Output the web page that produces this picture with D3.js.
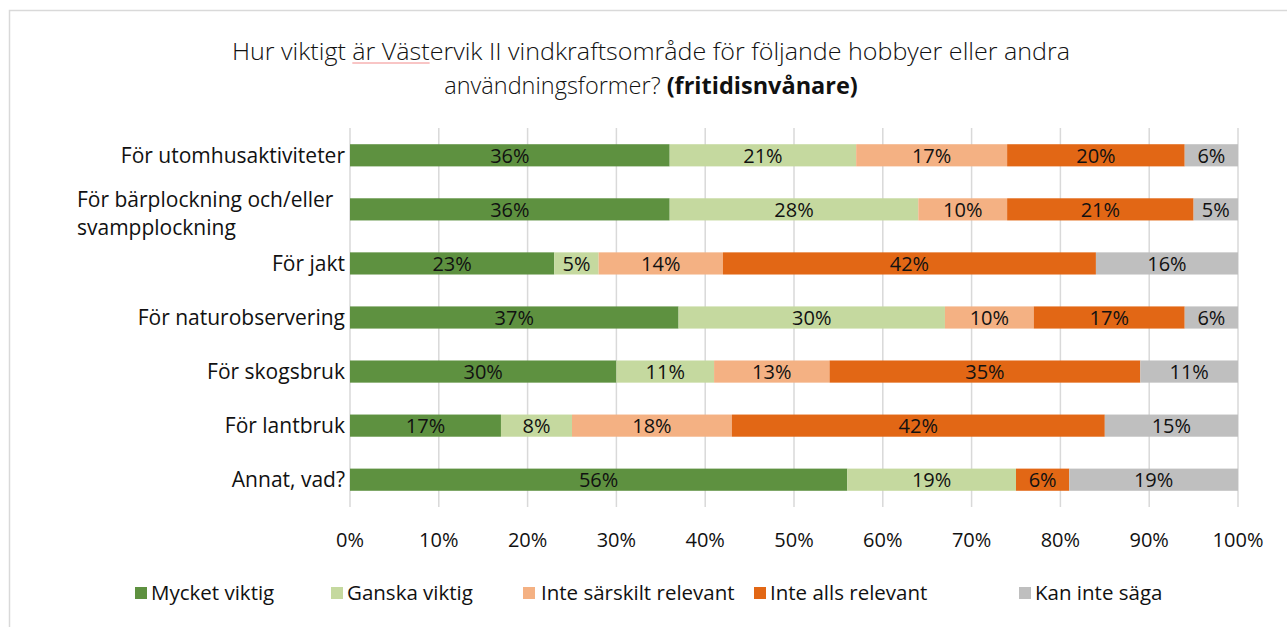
<!DOCTYPE html>
<html>
<head>
<meta charset="utf-8">
<script src="https://cdn.jsdelivr.net/npm/d3@7"></script>
<style>
  body { margin: 0; background: #fff; }
  text { font-family: "Open Sans", Lato, sans-serif; fill: #111; }
</style>
</head>
<body>
<div id="chart"></div>
<script>
const width = 1287, height = 627;

/* data */
const categories = [
  "För utomhusaktiviteter",
  "För bärplockning och/eller svampplockning",
  "För jakt",
  "För naturobservering",
  "För skogsbruk",
  "För lantbruk",
  "Annat, vad?"
];
const seriesNames = ["Mycket viktig", "Ganska viktig", "Inte särskilt relevant", "Inte alls relevant", "Kan inte säga"];
const mycketViktig   = [36, 36, 23, 37, 30, 17, 56];
const ganskaViktig   = [21, 28, 5, 30, 11, 8, 19];
const inteSarskilt   = [17, 10, 14, 10, 13, 18, 0];
const inteAlls       = [20, 21, 42, 17, 35, 42, 6];
const kanInteSaga    = [6, 5, 16, 6, 11, 15, 19];
const xTicks = [0, 10, 20, 30, 40, 50, 60, 70, 80, 90, 100];
const colors = ["#5e9140", "#c5d99f", "#f4b183", "#e26715", "#bfbfbf"];

const rows = categories.map((c, i) => ({
  cat: c,
  values: [mycketViktig[i], ganskaViktig[i], inteSarskilt[i], inteAlls[i], kanInteSaga[i]]
}));

const svg = d3.select("#chart").append("svg")
  .attr("width", width)
  .attr("height", height);

/* outer frame */
svg.append("rect")
  .attr("x", 9.5).attr("y", 10.5)
  .attr("width", width).attr("height", height)
  .attr("fill", "none")
  .attr("stroke", "#d9d9d9")
  .attr("stroke-width", 1.5);

/* title */
const titleLine1 = "Hur viktigt är Västervik II vindkraftsområde för följande hobbyer eller andra";
const title = svg.append("text")
  .attr("text-anchor", "middle")
  .style("font-weight", 300)
  .style("font-size", "23.5px");
const t1 = title.append("tspan").attr("x", 651).attr("y", 60)
  .attr("textLength", 838).attr("lengthAdjust", "spacingAndGlyphs")
  .text(titleLine1);
const t2 = title.append("tspan").attr("x", 651).attr("y", 94);
t2.append("tspan").text("användningsformer? ");
t2.append("tspan").style("font-weight", 700).text("(fritidisnvånare)");

// spell-check squiggle under "är Väst"
const node = title.node();
const i0 = titleLine1.indexOf("är");
const i1 = titleLine1.indexOf("Väst") + 3;
const sx0 = node.getStartPositionOfChar(i0).x;
const sx1 = node.getEndPositionOfChar(i1).x;
svg.append("line")
  .attr("x1", sx0).attr("x2", sx1).attr("y1", 63).attr("y2", 63)
  .attr("stroke", "#f28b8b").attr("stroke-width", 1);

/* scales */
const x = d3.scaleLinear().domain([0, 100]).range([350, 1238]);
const y = d3.scaleBand().domain(categories).range([128, 507]).paddingInner(0.59).paddingOuter(0.3);

/* grid */
svg.append("g")
  .selectAll("line")
  .data(xTicks)
  .join("line")
  .attr("x1", d => x(d)).attr("x2", d => x(d))
  .attr("y1", 128).attr("y2", 507)
  .attr("stroke", "#d9d9d9")
  .attr("stroke-width", 1.5);

/* x tick labels */
svg.append("g")
  .selectAll("text")
  .data(xTicks)
  .join("text")
  .attr("x", d => x(d))
  .attr("y", 547)
  .attr("text-anchor", "middle")
  .style("font-size", "20px")
  .text(d => d + "%");

/* bars */
const segs = [];
rows.forEach(r => {
  let acc = 0;
  r.values.forEach((v, k) => {
    segs.push({ cat: r.cat, k, v, x0: acc, x1: acc + v });
    acc += v;
  });
});

const bars = svg.append("g");
bars.selectAll("rect")
  .data(segs.filter(d => d.v > 0))
  .join("rect")
  .attr("x", d => x(d.x0))
  .attr("y", d => y(d.cat))
  .attr("width", d => x(d.x1) - x(d.x0))
  .attr("height", y.bandwidth())
  .attr("fill", d => colors[d.k]);

bars.selectAll("text")
  .data(segs.filter(d => d.v > 0))
  .join("text")
  .attr("x", d => (x(d.x0) + x(d.x1)) / 2)
  .attr("y", d => y(d.cat) + y.bandwidth() / 2 + 7.5)
  .attr("text-anchor", "middle")
  .style("font-size", "20px")
  .text(d => d.v + "%");

/* category labels */
const catLabels = svg.append("g");
categories.forEach(c => {
  const cy = y(c) + y.bandwidth() / 2;
  if (c === "För bärplockning och/eller svampplockning") {
    const t = catLabels.append("text").style("font-size", "21px");
    t.append("tspan").attr("x", 77).attr("y", cy - 2).text("För bärplockning och/eller");
    t.append("tspan").attr("x", 77).attr("y", cy + 26).text("svampplockning");
  } else {
    catLabels.append("text")
      .attr("x", 345)
      .attr("y", cy + 7.5)
      .attr("text-anchor", "end")
      .style("font-size", "21px")
      .text(c);
  }
});

/* legend */
const legendX = [135, 331, 523, 754, 1019];
const lg = svg.append("g")
  .selectAll("g")
  .data(seriesNames)
  .join("g")
  .attr("transform", (d, i) => `translate(${legendX[i]},587)`);
lg.append("rect")
  .attr("width", 12).attr("height", 12)
  .attr("fill", (d, i) => colors[i]);
lg.append("text")
  .attr("x", (d, i) => i === 2 ? 18 : 16)
  .attr("y", 13)
  .style("font-size", "20.5px")
  .text(d => d);
</script>
</body>
</html>
